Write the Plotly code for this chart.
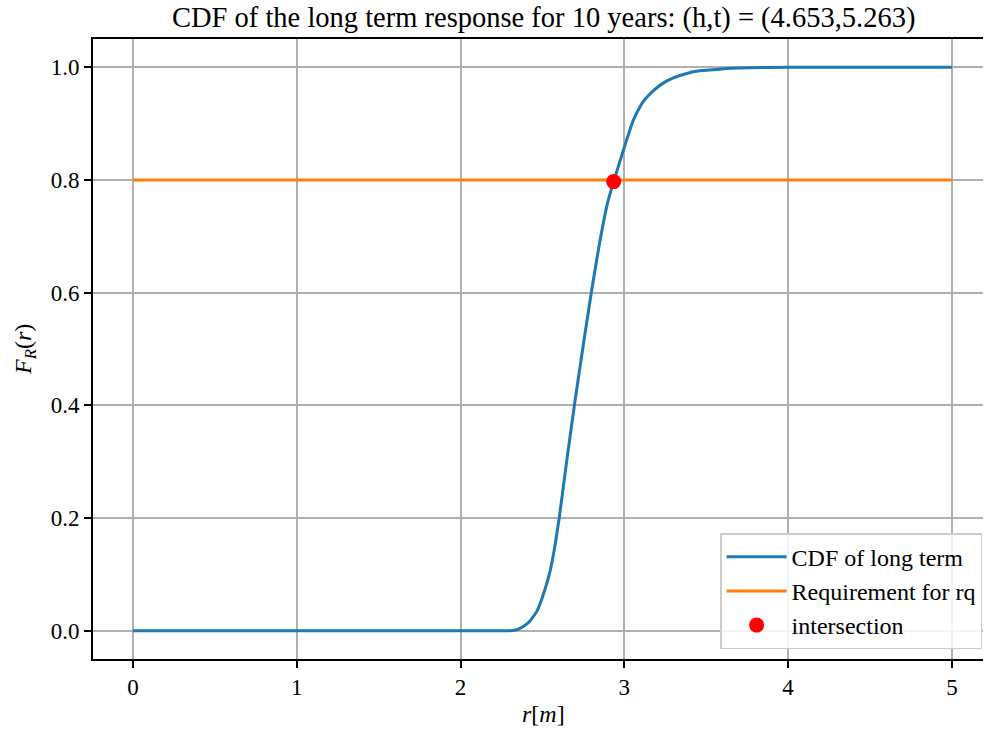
import plotly.graph_objects as go

# CDF of long term response
r_cdf = [0.0, 1.0, 2.0, 2.30, 2.33, 2.36, 2.39, 2.42, 2.465, 2.505, 2.546, 2.576,
         2.603, 2.65, 2.70, 2.75, 2.80, 2.85, 2.90, 2.935, 3.0, 3.03, 3.055, 3.085,
         3.115, 3.155, 3.197, 3.245, 3.299, 3.36, 3.421, 3.48, 3.563, 3.65, 3.767,
         4.0, 4.5, 5.0]
F_cdf = [0.0, 0.0, 0.0, 0.0, 0.001, 0.004, 0.009, 0.016, 0.034, 0.064, 0.105, 0.150,
         0.201, 0.305, 0.410, 0.508, 0.603, 0.690, 0.762, 0.797, 0.858, 0.885, 0.906,
         0.924, 0.939, 0.952, 0.963, 0.973, 0.981, 0.987, 0.992, 0.994, 0.996, 0.998,
         0.999, 1.0, 1.0, 1.0]

# Requirement line
r_req = [0.0, 5.0]
F_req = [0.8, 0.8]

# Intersection point
r_int = [2.935]
F_int = [0.797]

x_ticks = [0, 1, 2, 3, 4, 5]
y_ticks = [0.0, 0.2, 0.4, 0.6, 0.8, 1.0]
y_ticklabels = ["0.0", "0.2", "0.4", "0.6", "0.8", "1.0"]

FONT = "Liberation Serif"

fig = go.Figure()
fig.add_trace(go.Scatter(x=r_cdf, y=F_cdf, mode="lines", name="CDF of long term",
                         line=dict(color="#1f77b4", width=3, shape="spline", smoothing=0.3)))
fig.add_trace(go.Scatter(x=r_req, y=F_req, mode="lines", name="Requirement for rq",
                         line=dict(color="#ff7f0e", width=3)))
fig.add_trace(go.Scatter(x=r_int, y=F_int, mode="markers", name="intersection",
                         marker=dict(color="red", size=15)))

W, H = 984, 731
L, R, T, B = 93, 983, 39, 659


def px_to_paper(px, py):
    return (px - L) / (R - L), (B - py) / (B - T)


tx, ty = px_to_paper(543, 18)
xx, xy = px_to_paper(543, 714)
yx, yy = px_to_paper(25, 350)

fig.update_layout(
    width=W, height=H,
    margin=dict(l=L, r=W - R, t=T, b=H - B, pad=0),
    paper_bgcolor="white", plot_bgcolor="white",
    font=dict(family=FONT, size=23, color="black"),
    showlegend=True,
    legend=dict(
        x=0.999, xanchor="right", y=0.016, yanchor="bottom",
        bgcolor="rgba(255,255,255,0.85)", bordercolor="#cccccc", borderwidth=1.5,
        font=dict(family=FONT, size=24), tracegroupgap=0, itemwidth=60,
    ),
    annotations=[
        dict(text="CDF of the long term response for 10 years: (h,t) = (4.653,5.263)",
             x=tx, y=ty, xref="paper", yref="paper",
             xanchor="center", yanchor="middle", showarrow=False,
             font=dict(family=FONT, size=28.5)),
        dict(text="<i>r</i>[<i>m</i>]", x=xx, y=xy,
             xref="paper", yref="paper", xanchor="center", yanchor="middle",
             showarrow=False, font=dict(family=FONT, size=24)),
        dict(text="<i>F</i><sub><i>R</i></sub>(<i>r</i>)", x=yx, y=yy,
             xref="paper", yref="paper", xanchor="center", yanchor="middle",
             showarrow=False, textangle=-90, font=dict(family=FONT, size=24)),
    ],
)

fig.update_xaxes(
    range=[-0.244, 5.19], tickvals=x_ticks, ticktext=[str(t) for t in x_ticks],
    showgrid=True, gridcolor="#b0b0b0", gridwidth=1.5, zeroline=False,
    showline=True, linecolor="black", linewidth=1.6, mirror=True,
    ticks="outside", ticklen=7, tickwidth=1.5, tickcolor="black",
    tickfont=dict(family=FONT, size=23),
)
fig.update_yaxes(
    range=[-0.05, 1.05], tickvals=y_ticks, ticktext=y_ticklabels,
    showgrid=True, gridcolor="#b0b0b0", gridwidth=1.5, zeroline=False,
    showline=True, linecolor="black", linewidth=1.6, mirror=False,
    ticks="outside", ticklen=7, tickwidth=1.5, tickcolor="black",
    tickfont=dict(family=FONT, size=23),
)

fig.write_html("out.html", config={"displayModeBar": False},
               post_script="document.body.style.margin='0';")
